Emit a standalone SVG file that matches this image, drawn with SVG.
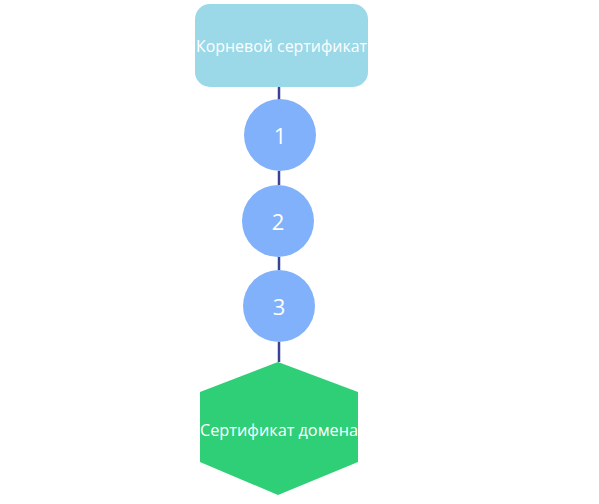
<svg xmlns="http://www.w3.org/2000/svg" width="599" height="504" viewBox="0 0 599 504">
<style>
.t{font-family:"Open Sans","Noto Sans",sans-serif;fill:#ffffff;text-anchor:middle;dominant-baseline:central}
.c{fill:#80b1fa}
.l{stroke:#3b4193;stroke-width:2.5;fill:none}
</style>
<rect width="599" height="504" fill="#ffffff"/>
<g id="connectors">
<line class="l" x1="279" y1="87" x2="279" y2="100"/>
<line class="l" x1="279" y1="171" x2="279" y2="185"/>
<line class="l" x1="279" y1="257" x2="279" y2="270"/>
<line class="l" x1="279" y1="342" x2="279" y2="362"/>
</g>
<g id="root">
<rect x="195" y="4" width="173" height="83" rx="15" fill="#9bd8e8"/>
<text class="t" x="281.5" y="45" font-size="17" textLength="171" lengthAdjust="spacingAndGlyphs">Корневой сертификат</text>
</g>
<g id="n1">
<circle class="c" cx="280" cy="135" r="36"/>
<text class="t" x="280" y="135" font-size="22">1</text>
</g>
<g id="n2">
<circle class="c" cx="278" cy="221" r="36"/>
<text class="t" x="278" y="221" font-size="22">2</text>
</g>
<g id="n3">
<circle class="c" cx="279" cy="306" r="36"/>
<text class="t" x="279" y="306" font-size="22">3</text>
</g>
<g id="domain">
<polygon points="278,362 358,392 358,462 278,495 200,462 200,392" fill="#2ecf76"/>
<text class="t" x="279" y="429" font-size="17" textLength="158" lengthAdjust="spacingAndGlyphs">Сертификат домена</text>
</g>
</svg>
